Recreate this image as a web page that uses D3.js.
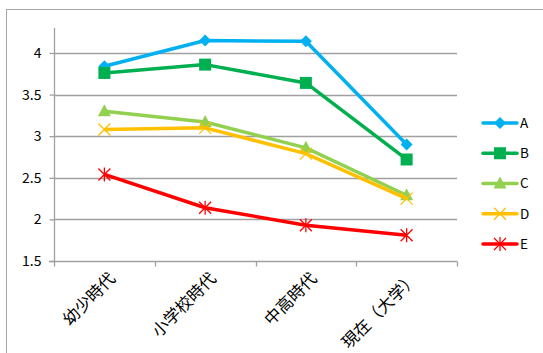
<!DOCTYPE html>
<html>
<head>
<meta charset="utf-8">
<script src="https://cdn.jsdelivr.net/npm/d3@7"></script>
<style>
  body { margin: 0; background: #fff; }
  svg { display: block; }
  text { font-family: "Noto Sans CJK JP", "Noto Sans", sans-serif; fill: #000; }
</style>
</head>
<body>
<svg id="chart" width="543" height="353"></svg>
<script>
// Periods on the x axis
const categories = ["幼少時代", "小学校時代", "中高時代", "現在（大学）"];
// One value list per group
const seriesNames = ["A", "B", "C", "D", "E"];
const valuesA = [3.84, 4.15, 4.14, 2.90];
const valuesB = [3.76, 3.86, 3.64, 2.72];
const valuesC = [3.30, 3.17, 2.86, 2.29];
const valuesD = [3.08, 3.10, 2.79, 2.25];
const valuesE = [2.54, 2.14, 1.93, 1.81];
const yTicks = [1.5, 2, 2.5, 3, 3.5, 4];

const colors = ["#00B0F0", "#00B050", "#92D050", "#FFC000", "#FF0000"];
const markers = ["diamond", "square", "triangle", "x", "star"];
const series = [valuesA, valuesB, valuesC, valuesD, valuesE].map((v, i) => ({
  name: seriesNames[i], values: v, color: colors[i], marker: markers[i]
}));

const svg = d3.select("#chart");

// Chart frame
svg.append("rect")
  .attr("x", 6.5).attr("y", 9.5).attr("width", 560).attr("height", 400)
  .attr("fill", "none").attr("stroke", "#A6A6A6").attr("stroke-width", 1);

const plot = { left: 54, right: 457, top: 28, bottom: 261 };

const x = d3.scaleBand().domain(categories).range([plot.left, plot.right]).padding(0);
const y = d3.scaleLinear().domain([1.5, 4.3]).range([plot.bottom, plot.top]);

// Horizontal gridlines
svg.append("g").selectAll("line").data(yTicks.filter(t => t > 1.5)).join("line")
  .attr("x1", plot.left).attr("x2", plot.right)
  .attr("y1", d => Math.round(y(d)) + 0.5).attr("y2", d => Math.round(y(d)) + 0.5)
  .attr("stroke", "#A0A0A0").attr("stroke-width", 1.3);

// Y axis
const yAxis = svg.append("g").attr("transform", `translate(${plot.left + 0.5},0)`)
  .call(d3.axisLeft(y).tickValues(yTicks).tickSize(5).tickPadding(8).tickFormat(d3.format("")));
yAxis.select(".domain").attr("stroke", "#A0A0A0").attr("stroke-width", 1.3)
  .attr("d", `M0,${plot.top}V${plot.bottom + 0.5}`);
yAxis.selectAll(".tick line").attr("stroke", "#A0A0A0").attr("stroke-width", 1.3);
yAxis.selectAll(".tick text").attr("font-size", 14).attr("font-family", "Liberation Sans, Arial, sans-serif");

// X axis with ticks at category boundaries
const xAxisG = svg.append("g").attr("transform", `translate(0,${Math.round(y(1.5)) + 0.5})`);
xAxisG.append("line").attr("x1", plot.left - 5).attr("x2", plot.right)
  .attr("stroke", "#A0A0A0").attr("stroke-width", 1.3);
const bounds = categories.map(c => x(c)).concat([x(categories[categories.length - 1]) + x.bandwidth()]);
xAxisG.selectAll(".xt").data(bounds).join("line").attr("class", "xt")
  .attr("x1", d => Math.round(d) + 0.5).attr("x2", d => Math.round(d) + 0.5)
  .attr("y1", 0).attr("y2", 5)
  .attr("stroke", "#A0A0A0").attr("stroke-width", 1.3);
xAxisG.selectAll(".xl").data(categories).join("text").attr("class", "xl")
  .attr("transform", d => `translate(${x(d) + x.bandwidth() / 2 + 8},${14}) rotate(-45)`)
  .attr("text-anchor", "end").attr("dy", "0.35em")
  .attr("font-size", 16.5)
  .text(d => d);

// Marker shapes
function drawMarker(g, type, color) {
  if (type === "diamond") {
    g.append("path").attr("d", "M0,-6L6,0L0,6L-6,0Z").attr("fill", color);
  } else if (type === "square") {
    g.append("rect").attr("x", -6).attr("y", -6).attr("width", 12).attr("height", 12).attr("fill", color);
  } else if (type === "triangle") {
    g.append("path").attr("d", "M0,-7L6.5,5L-6.5,5Z").attr("fill", color);
  } else if (type === "x") {
    g.append("path").attr("d", "M-6,-6L6,6M-6,6L6,-6").attr("stroke", color).attr("stroke-width", 1.3).attr("fill", "none");
  } else if (type === "star") {
    g.append("path").attr("d", "M-6,-6L6,6M-6,6L6,-6M0,-7V7").attr("stroke", color).attr("stroke-width", 1.3).attr("fill", "none");
  }
}

const line = d3.line()
  .x((d, i) => x(categories[i]) + x.bandwidth() / 2)
  .y(d => y(d));

const lines = svg.append("g");
series.forEach(s => {
  const g = lines.append("g");
  g.append("path").attr("d", line(s.values))
    .attr("fill", "none").attr("stroke", s.color).attr("stroke-width", 3.5)
    .attr("stroke-linejoin", "round");
  s.values.forEach((v, i) => {
    const m = g.append("g").attr("transform", `translate(${x(categories[i]) + x.bandwidth() / 2},${y(v)})`);
    drawMarker(m, s.marker, s.color);
  });
});

// Legend
const legendY = d3.scalePoint().domain(seriesNames).range([123, 244]);
const legend = svg.append("g");
series.forEach(s => {
  const g = legend.append("g").attr("transform", `translate(0,${legendY(s.name)})`);
  g.append("line").attr("x1", 483).attr("x2", 517).attr("stroke", s.color)
    .attr("stroke-width", 3.5).attr("stroke-linecap", "round");
  const m = g.append("g").attr("transform", "translate(500,0)");
  drawMarker(m, s.marker, s.color);
  g.append("text").attr("x", 520).attr("dy", "0.36em").attr("font-size", 13.5)
    .attr("font-family", "Liberation Sans, Arial, sans-serif").text(s.name);
});
</script>
</body>
</html>
